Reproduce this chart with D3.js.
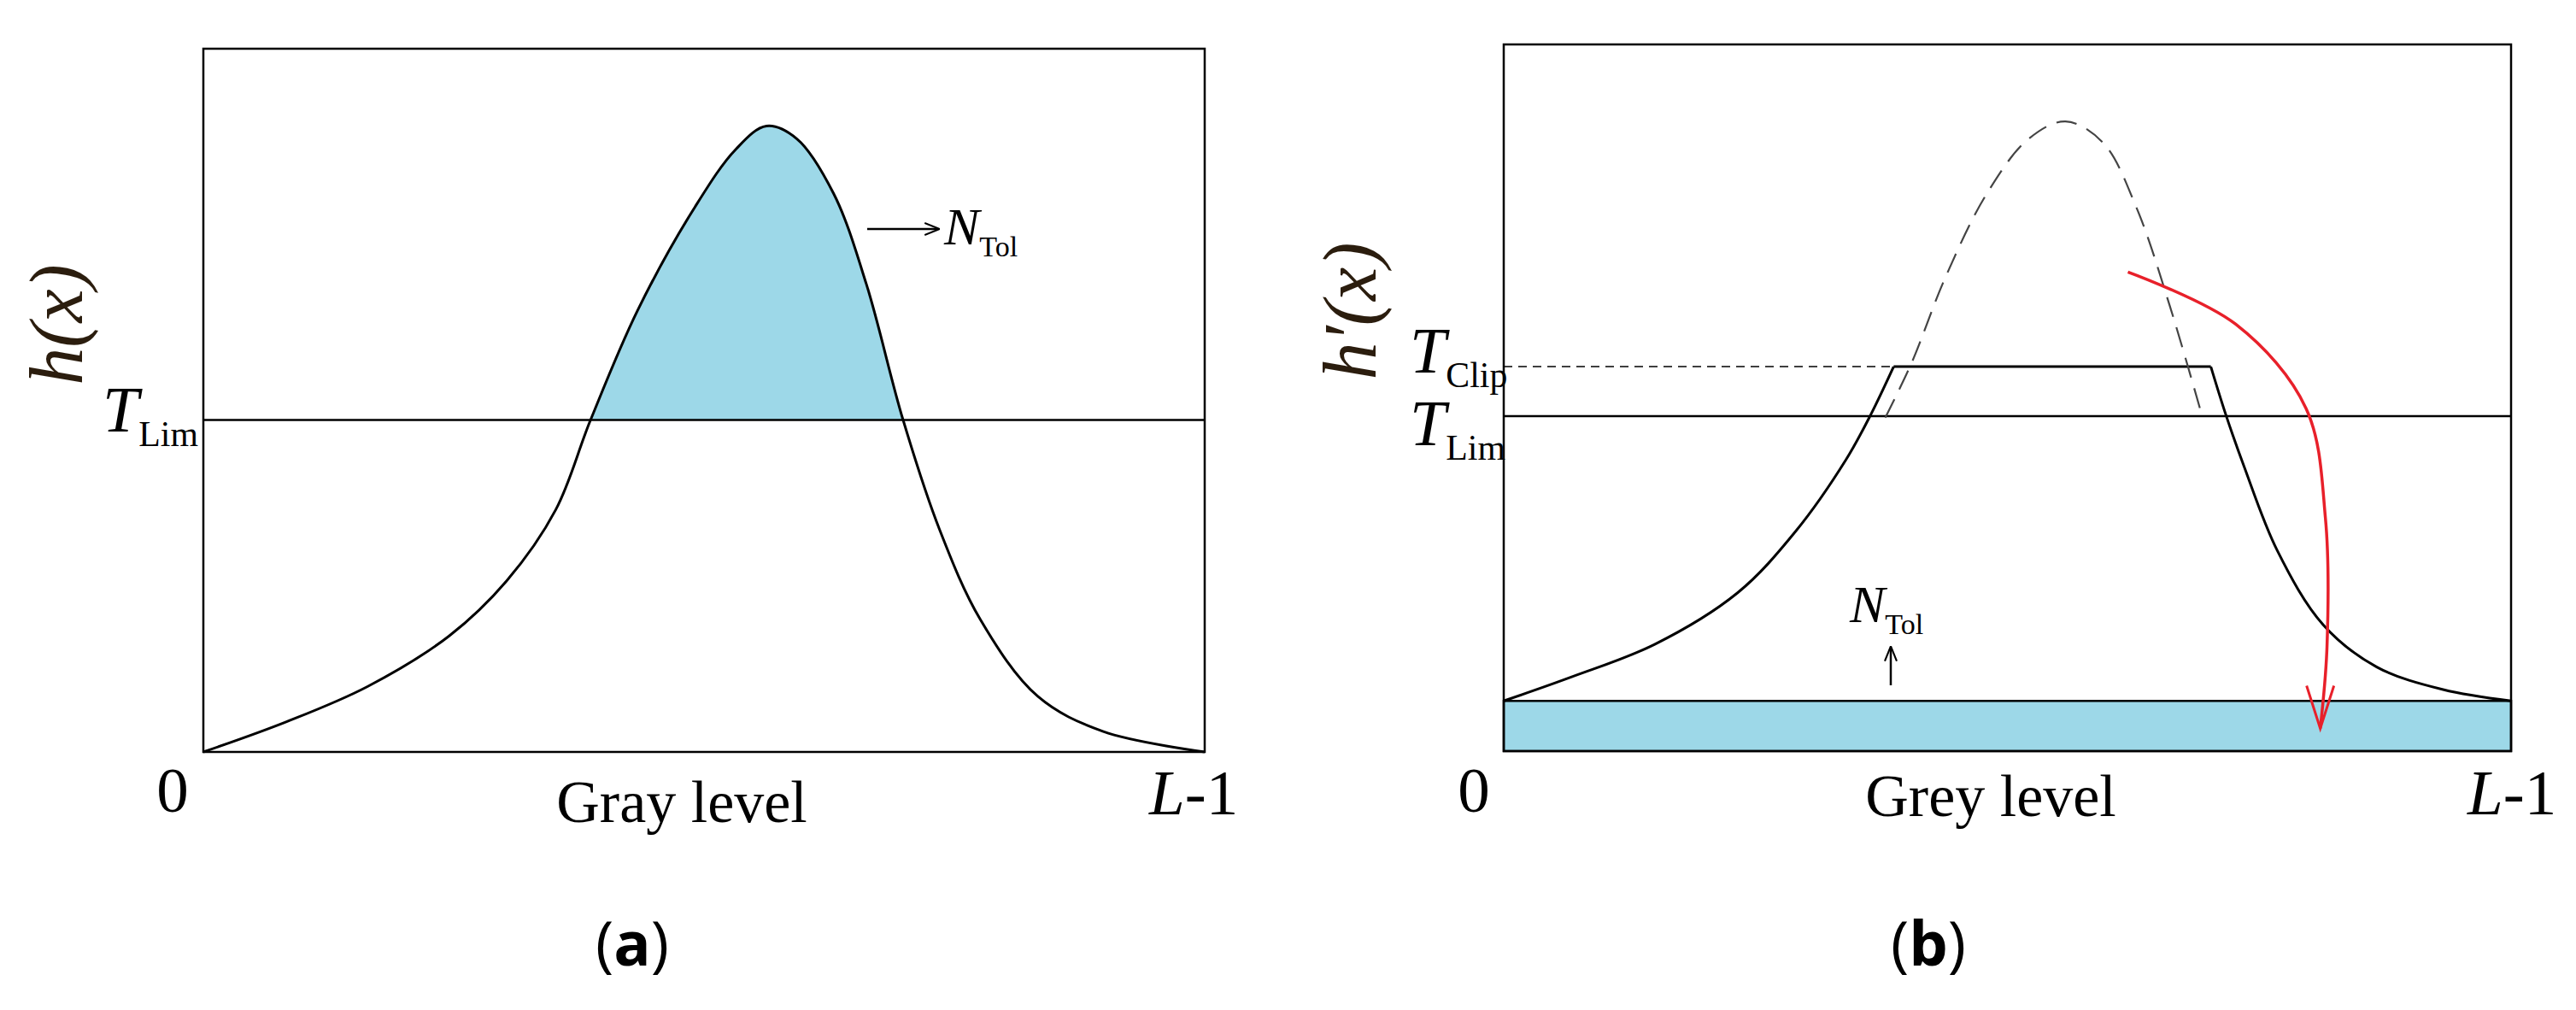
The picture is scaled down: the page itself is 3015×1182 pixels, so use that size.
<!DOCTYPE html>
<html><head><meta charset="utf-8">
<script src="https://cdn.jsdelivr.net/npm/d3@7"></script>
<style>body{margin:0;background:#fff}</style></head>
<body><svg id="c" width="3015" height="1182"></svg>
<script>
// Panel (a): histogram h(x)
const aGray = [0,21.2,41.8,62.6,77.2,89.7,98.6,110.6,125.2,135.6,143.4,151.1,160.5,168.8,178.2,187.5,197.9,212.5,229.2,255];
const aCount = [0,4.3,9.3,16.5,24.3,34.4,47.2,62.8,77.5,85.7,89.0,87.2,79.4,66.6,47.2,31.6,18.8,7.9,2.9,0];
const aLim = 47.2;
// Panel (b): clipped histogram h'(x)
const bGray = [0,17.2,38.2,59.2,73.9,86.6,92.9,98.7,179.0,182.8,187.4,195.8,207.4,221.0,237.8,255];
const bCount = [7.1,10.5,15.1,22.4,31.1,41.2,47.6,54.4,54.4,47.6,40.3,28.4,17.9,11.9,8.7,7.1];
const dGray = [96.6,103.3,111.7,122.2,132.8,142.2,151.7,160.1,168.5,176.9];
const dCount = [47.2,55.0,66.9,78.8,86.6,89.1,86.1,77.0,63.2,47.2];
const rGray = [158.0,185.3,203.1,208.0,208.4,206.7];
const rCount = [67.8,60.4,48.5,33.0,14.7,3.2];
const bLim = 47.4, bClip = 54.4, bBase = 7.1;

const svg = d3.select("#c");
const serif = "'Liberation Serif','DejaVu Serif',serif";
const blue = "#9dd8e8";
function sub(g, x, y, main, s, size){
  const t = g.append("text").attr("x",x).attr("y",y).attr("font-family",serif).attr("font-size",size);
  t.append("tspan").attr("font-style","italic").text(main);
  t.append("tspan").attr("font-size",size*0.55).attr("dy",size*0.22).text(s);
}
function panel(x0,x1,y0,y1){
  const x = d3.scaleLinear().domain([0,255]).range([x0,x1]);
  const y = d3.scaleLinear().domain([0,100]).range([y1,y0]);
  return {x,y};
}
function caption(g,cx,letter){
  const c = g.append("text").attr("x",cx).attr("y",1130).attr("text-anchor","middle").attr("font-family","'Open Sans',sans-serif").attr("font-size",72);
  c.append("tspan").text("(");c.append("tspan").attr("font-weight","bold").text(letter);c.append("tspan").text(")");
}
function ends(g,x0,xl,text){
  g.append("text").attr("x",x0).attr("y",950).attr("text-anchor","middle").attr("font-family",serif).attr("font-size",75).text("0");
  const l = g.append("text").attr("x",xl).attr("y",953).attr("font-family",serif).attr("font-size",75);
  l.append("tspan").attr("font-style","italic").text("L");
  l.append("tspan").text("-1");
}
svg.append("defs").append("marker").attr("id","ah").attr("viewBox","0 0 10 10").attr("refX",9).attr("refY",5)
  .attr("markerWidth",7).attr("markerHeight",7).attr("orient","auto")
  .append("path").attr("d","M0,1 L10,5 L0,9").attr("fill","none").attr("stroke","#000").attr("stroke-width",1.2);

// ---- Panel a
{
  const {x,y} = panel(238,1410,57,880);
  const g = svg.append("g");
  const pts = aGray.map((v,i)=>[v,aCount[i]]);
  const line = d3.line().x(d=>x(d[0])).y(d=>y(d[1])).curve(d3.curveCatmullRom);
  g.append("clipPath").attr("id","ca").append("rect").attr("x",x(0)).attr("y",y(100)).attr("width",x(255)-x(0)).attr("height",y(aLim)-y(100));
  const area = d3.area().x(d=>x(d[0])).y0(y(aLim)).y1(d=>y(d[1])).curve(d3.curveCatmullRom);
  g.append("path").attr("d",area(pts)).attr("fill",blue).attr("clip-path","url(#ca)");
  g.append("line").attr("x1",x(0)).attr("x2",x(255)).attr("y1",y(aLim)).attr("y2",y(aLim)).attr("stroke","#000").attr("stroke-width",2.5);
  g.append("path").attr("d",line(pts)).attr("fill","none").attr("stroke","#000").attr("stroke-width",3);
  g.append("rect").attr("x",x(0)).attr("y",y(100)).attr("width",x(255)-x(0)).attr("height",y(0)-y(100)).attr("fill","none").attr("stroke","#000").attr("stroke-width",2.5);
  g.append("line").attr("x1",1015).attr("x2",1098).attr("y1",268).attr("y2",268).attr("stroke","#000").attr("stroke-width",2.5).attr("marker-end","url(#ah)");
  sub(g,1105,286,"N","Tol",62);
  sub(g,120,505,"T","Lim",76);
  ends(g,202,1345);
  g.append("text").attr("x",798).attr("y",962).attr("text-anchor","middle").attr("font-family",serif).attr("font-size",70).text("Gray level");
  g.append("text").attr("transform","translate(96,380) rotate(-90)").attr("text-anchor","middle").attr("font-family",serif).attr("font-style","italic").attr("font-size",88).attr("fill","#2b1d0e").text("h(x)");
  caption(g,740,"a");
}
// ---- Panel b
{
  const {x,y} = panel(1760,2939,52,879);
  const g = svg.append("g");
  const line = d3.line().x(d=>x(d[0])).y(d=>y(d[1]));
  g.append("rect").attr("x",x(0)).attr("y",y(bBase)).attr("width",x(255)-x(0)).attr("height",y(0)-y(bBase)).attr("fill",blue).attr("stroke","#000").attr("stroke-width",2.5);
  g.append("line").attr("x1",x(0)).attr("x2",x(255)).attr("y1",y(bLim)).attr("y2",y(bLim)).attr("stroke","#000").attr("stroke-width",2.5);
  g.append("line").attr("x1",x(0)).attr("x2",x(98.7)).attr("y1",y(bClip)).attr("y2",y(bClip)).attr("stroke","#000").attr("stroke-width",1.5).attr("stroke-dasharray","10,7");
  const bp = bGray.map((v,i)=>[v,bCount[i]]);
  const left = bp.slice(0,8), mid = bp.slice(7,9), right = bp.slice(8);
  const cl = d3.line().x(d=>x(d[0])).y(d=>y(d[1])).curve(d3.curveCatmullRom);
  g.append("path").attr("d",cl(left)).attr("fill","none").attr("stroke","#000").attr("stroke-width",3);
  g.append("path").attr("d",line(mid)).attr("fill","none").attr("stroke","#000").attr("stroke-width",3);
  g.append("path").attr("d",cl(right)).attr("fill","none").attr("stroke","#000").attr("stroke-width",3);
  g.append("path").attr("d",cl(dGray.map((v,i)=>[v,dCount[i]]))).attr("fill","none").attr("stroke","#444").attr("stroke-width",2.2).attr("stroke-dasharray","24,13");
  g.append("rect").attr("x",x(0)).attr("y",y(100)).attr("width",x(255)-x(0)).attr("height",y(0)-y(100)).attr("fill","none").attr("stroke","#000").attr("stroke-width",2.5);
  const rp = rGray.map((v,i)=>[v,rCount[i]]);
  g.append("path").attr("d",cl(rp)).attr("fill","none").attr("stroke","#e8202a").attr("stroke-width",3.5);
  const tip = [x(rGray[5]),y(rCount[5])];
  g.append("path").attr("d",`M${tip[0]-16},${tip[1]-50} L${tip[0]},${tip[1]} L${tip[0]+16},${tip[1]-50}`).attr("fill","none").attr("stroke","#e8202a").attr("stroke-width",3);
  g.append("line").attr("x1",2213).attr("x2",2213).attr("y1",802).attr("y2",758).attr("stroke","#000").attr("stroke-width",2.5).attr("marker-end","url(#ah)");
  sub(g,2165,728,"N","Tol",62);
  sub(g,1650,436,"T","Clip",76);
  sub(g,1650,521,"T","Lim",76);
  ends(g,1725,2888);
  g.append("text").attr("x",2330).attr("y",955).attr("text-anchor","middle").attr("font-family",serif).attr("font-size",70).text("Grey level");
  g.append("text").attr("transform","translate(1610,364) rotate(-90)").attr("text-anchor","middle").attr("font-family",serif).attr("font-style","italic").attr("font-size",88).attr("fill","#2b1d0e").text("h′(x)");
  caption(g,2257,"b");
}
</script></body></html>
